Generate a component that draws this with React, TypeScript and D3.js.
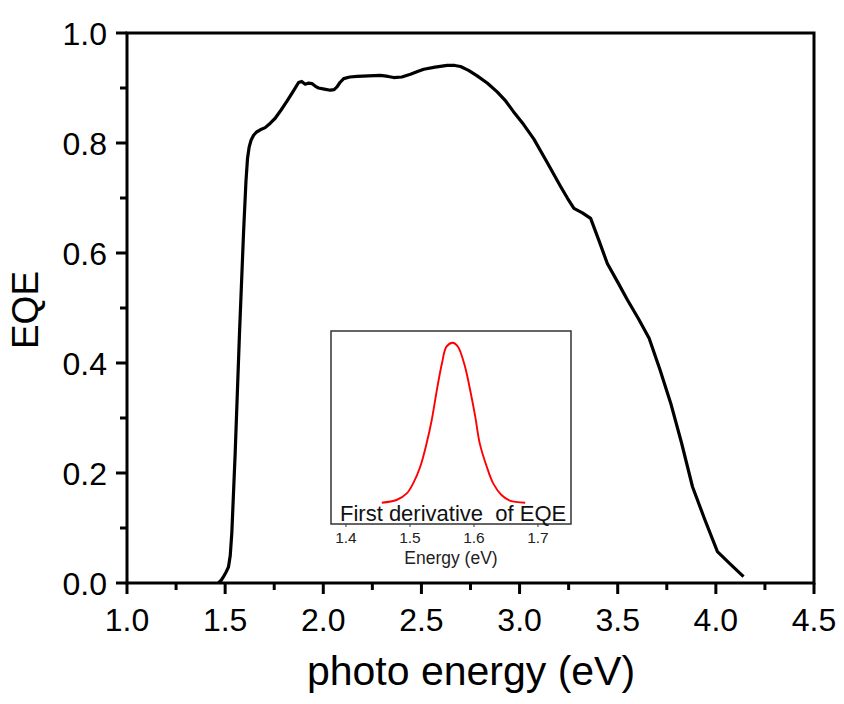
import React from "react";
import * as d3 from "d3";

// Main EQE curve (photon energy in eV, EQE)
const mainEnergy = [
  1.466, 1.48, 1.491, 1.505, 1.517, 1.526, 1.534, 1.551, 1.573, 1.594, 1.606,
  1.614, 1.622, 1.632, 1.645, 1.66, 1.679, 1.704, 1.73, 1.755, 1.785, 1.815,
  1.845, 1.874, 1.89, 1.908, 1.925, 1.942, 1.96, 1.976, 2.005, 2.036, 2.055,
  2.07, 2.085, 2.104, 2.135, 2.172, 2.23, 2.291, 2.33, 2.359, 2.4, 2.444,
  2.48, 2.512, 2.57, 2.631, 2.67, 2.699, 2.74, 2.784, 2.835, 2.886, 2.93,
  2.969, 3.02, 3.073, 3.14, 3.209, 3.245, 3.277, 3.32, 3.362, 3.405, 3.447,
  3.5, 3.549, 3.605, 3.66, 3.715, 3.77, 3.825, 3.881, 3.945, 4.008, 4.075,
  4.141,
];
const mainEQE = [
  0.0, 0.005, 0.011, 0.02, 0.029, 0.05, 0.091, 0.235, 0.453, 0.639, 0.73,
  0.772, 0.792, 0.805, 0.814, 0.82, 0.824, 0.828, 0.836, 0.845, 0.86, 0.876,
  0.893, 0.91, 0.912, 0.907, 0.909, 0.908, 0.903, 0.9, 0.898, 0.896, 0.897,
  0.902, 0.91, 0.917, 0.92, 0.921, 0.922, 0.923, 0.921, 0.919, 0.92, 0.925,
  0.93, 0.934, 0.938, 0.941, 0.941, 0.939, 0.932, 0.922, 0.909, 0.893, 0.876,
  0.857, 0.834, 0.807, 0.765, 0.721, 0.699, 0.681, 0.673, 0.663, 0.622, 0.581,
  0.547, 0.515, 0.481, 0.445, 0.388, 0.327, 0.255, 0.175, 0.114, 0.057, 0.034,
  0.0115,
];

// Inset: first derivative of EQE (normalized)
const insetEnergy = [
  1.456, 1.479, 1.495, 1.505, 1.516, 1.526, 1.534, 1.542, 1.55, 1.557, 1.567,
  1.575, 1.586, 1.594, 1.602, 1.609, 1.62, 1.63, 1.643, 1.656, 1.68,
];
const insetDeriv = [
  0.0, 0.017, 0.058, 0.121, 0.225, 0.371, 0.517, 0.704, 0.871, 0.975, 1.0,
  0.975, 0.85, 0.704, 0.538, 0.371, 0.225, 0.121, 0.048, 0.013, 0.0,
];

const xMajorTicks = [1.0, 1.5, 2.0, 2.5, 3.0, 3.5, 4.0, 4.5];
const xMinorTicks = [1.25, 1.75, 2.25, 2.75, 3.25, 3.75, 4.25];
const yMajorTicks = [0.0, 0.2, 0.4, 0.6, 0.8, 1.0];
const yMinorTicks = [0.1, 0.3, 0.5, 0.7, 0.9];
const insetTicks = [1.4, 1.5, 1.6, 1.7];

const FONT = "'Liberation Sans', Arial, sans-serif";

export default function App() {
  const W = 844;
  const H = 704;
  const left = 127;
  const right = 814;
  const top = 33;
  const bottom = 583;

  const x = d3.scaleLinear().domain([1.0, 4.5]).range([left, right]);
  const y = d3.scaleLinear().domain([0, 1.0]).range([bottom, top]);

  const mainData = mainEnergy.map((e, i) => [e, mainEQE[i]] as [number, number]);
  const mainLine = d3
    .line<[number, number]>()
    .x((d) => x(d[0]))
    .y((d) => y(d[1]))
    .curve(d3.curveLinear);

  // inset
  const iL = 331;
  const iR = 571;
  const iT = 331;
  const iB = 524;
  const ix = d3.scaleLinear().domain([1.3766, 1.7516]).range([iL, iR]);
  const iy = d3.scaleLinear().domain([-0.133, 1.073]).range([iB, iT]);
  const insetData = insetEnergy.map((e, i) => [e, insetDeriv[i]] as [number, number]);
  const insetLine = d3
    .line<[number, number]>()
    .x((d) => ix(d[0]))
    .y((d) => iy(d[1]))
    .curve(d3.curveCatmullRom.alpha(0.5));

  return (
    <svg
      width={W}
      height={H}
      style={{ position: "absolute", left: 0, top: 0, background: "#fff" }}
      fontFamily={FONT}
    >
      <rect x={0} y={0} width={W} height={H} fill="#fff" />
      {/* main curve */}
      <path d={mainLine(mainData) || ""} fill="none" stroke="#000" strokeWidth={3.2} strokeLinejoin="round" />

      {/* inset */}
      <rect x={iL} y={iT} width={iR - iL} height={iB - iT} fill="#fff" stroke="#333" strokeWidth={1.5} />
      <path d={insetLine(insetData) || ""} fill="none" stroke="#ff0000" strokeWidth={1.9} />
      {insetTicks.map((t) => (
        <g key={"it" + t}>
          <line x1={ix(t)} x2={ix(t)} y1={iB} y2={iB + 3} stroke="#333" strokeWidth={1} />
          <text x={ix(t)} y={iB + 19} fontSize={15.5} textAnchor="middle" fill="#222">
            {t.toFixed(1)}
          </text>
        </g>
      ))}
      <text x={(iL + iR) / 2} y={564} fontSize={17.5} textAnchor="middle" fill="#222">
        Energy (eV)
      </text>
      <text x={340} y={521} fontSize={22} fill="#111" style={{ whiteSpace: "pre" }}>
        {"First derivative  of EQE"}
      </text>

      {/* frame */}
      <rect x={left} y={top} width={right - left} height={bottom - top} fill="none" stroke="#000" strokeWidth={3} />

      {/* x ticks */}
      {xMajorTicks.map((t) => (
        <g key={"xm" + t}>
          <line x1={x(t)} x2={x(t)} y1={bottom} y2={bottom + 11} stroke="#000" strokeWidth={3} />
          <text x={x(t)} y={631} fontSize={32} textAnchor="middle" fill="#000">
            {t.toFixed(1)}
          </text>
        </g>
      ))}
      {xMinorTicks.map((t) => (
        <line key={"xn" + t} x1={x(t)} x2={x(t)} y1={bottom} y2={bottom + 7} stroke="#000" strokeWidth={3} />
      ))}

      {/* y ticks */}
      {yMajorTicks.map((t) => (
        <g key={"ym" + t}>
          <line x1={left} x2={left - 11} y1={y(t)} y2={y(t)} stroke="#000" strokeWidth={3} />
          <text x={107} y={y(t) + 12} fontSize={32} textAnchor="end" fill="#000">
            {t.toFixed(1)}
          </text>
        </g>
      ))}
      {yMinorTicks.map((t) => (
        <line key={"yn" + t} x1={left} x2={left - 7} y1={y(t)} y2={y(t)} stroke="#000" strokeWidth={3} />
      ))}

      {/* axis titles */}
      <text x={471} y={685} fontSize={41} textAnchor="middle" fill="#000">
        photo energy (eV)
      </text>
      <text transform="translate(38,310) rotate(-90)" fontSize={37} textAnchor="middle" fill="#000">
        EQE
      </text>
    </svg>
  );
}
